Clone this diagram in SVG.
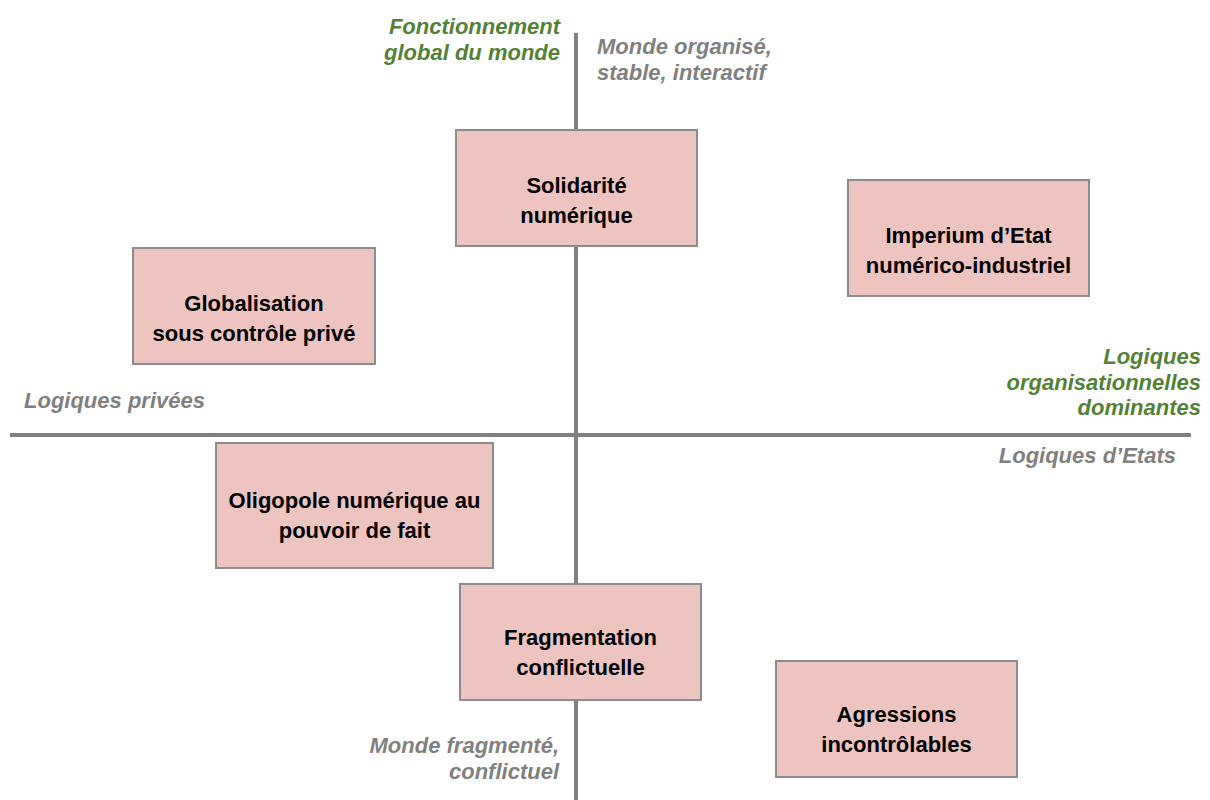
<svg xmlns="http://www.w3.org/2000/svg" width="1210" height="800" viewBox="0 0 1210 800">
<style>
.box{fill:#EEC4C0;stroke:#8C8C8C;stroke-width:2}
.axis{stroke:#808080;stroke-width:4;fill:none}
.t{font-family:"Liberation Sans Narrow","Liberation Sans",Arial,sans-serif;font-weight:bold;font-size:22px;fill:#000;text-anchor:middle}
.g{font-family:"Liberation Sans Narrow","Liberation Sans",Arial,sans-serif;font-weight:bold;font-style:italic;font-size:22px;fill:#538135}
.r{font-family:"Liberation Sans Narrow","Liberation Sans",Arial,sans-serif;font-weight:bold;font-style:italic;font-size:22px;fill:#808080}
</style>
<rect width="1210" height="800" fill="#fff"/>
<g id="axes" class="connectors">
<line class="axis" x1="576" y1="33" x2="576" y2="800"/>
<line class="axis" x1="10" y1="435" x2="1191" y2="435"/>
</g>
<g id="labels">
<text class="g" text-anchor="end"><tspan x="560" y="34">Fonctionnement</tspan><tspan x="560" y="60">global du monde</tspan></text>
<text class="r"><tspan x="597" y="54">Monde organisé,</tspan><tspan x="597" y="80">stable, interactif</tspan></text>
<text class="r" x="24" y="408">Logiques privées</text>
<text class="g" text-anchor="end"><tspan x="1201" y="364">Logiques</tspan><tspan x="1201" y="390">organisationnelles</tspan><tspan x="1201" y="415">dominantes</tspan></text>
<text class="r" text-anchor="end" x="1176" y="463">Logiques d’Etats</text>
<text class="r" text-anchor="end"><tspan x="559" y="753">Monde fragmenté,</tspan><tspan x="559" y="779">conflictuel</tspan></text>
</g>
<g id="solidarite">
<rect class="box" x="456" y="130" width="241" height="116"/>
<text class="t"><tspan x="576.5" y="193">Solidarité</tspan><tspan x="576.5" y="223">numérique</tspan></text>
</g>
<g id="imperium">
<rect class="box" x="848" y="180" width="241" height="116"/>
<text class="t"><tspan x="968.5" y="243">Imperium d’Etat</tspan><tspan x="968.5" y="273">numérico-industriel</tspan></text>
</g>
<g id="globalisation">
<rect class="box" x="133" y="248" width="242" height="116"/>
<text class="t"><tspan x="254" y="311">Globalisation</tspan><tspan x="254" y="341">sous contrôle privé</tspan></text>
</g>
<g id="oligopole">
<rect class="box" x="216" y="443" width="277" height="125"/>
<text class="t"><tspan x="354.5" y="508">Oligopole numérique au</tspan><tspan x="354.5" y="538">pouvoir de fait</tspan></text>
</g>
<g id="fragmentation">
<rect class="box" x="460" y="584" width="241" height="116"/>
<text class="t"><tspan x="580.5" y="645">Fragmentation</tspan><tspan x="580.5" y="675">conflictuelle</tspan></text>
</g>
<g id="agressions">
<rect class="box" x="776" y="661" width="241" height="116"/>
<text class="t"><tspan x="896.5" y="722">Agressions</tspan><tspan x="896.5" y="752">incontrôlables</tspan></text>
</g>
</svg>
